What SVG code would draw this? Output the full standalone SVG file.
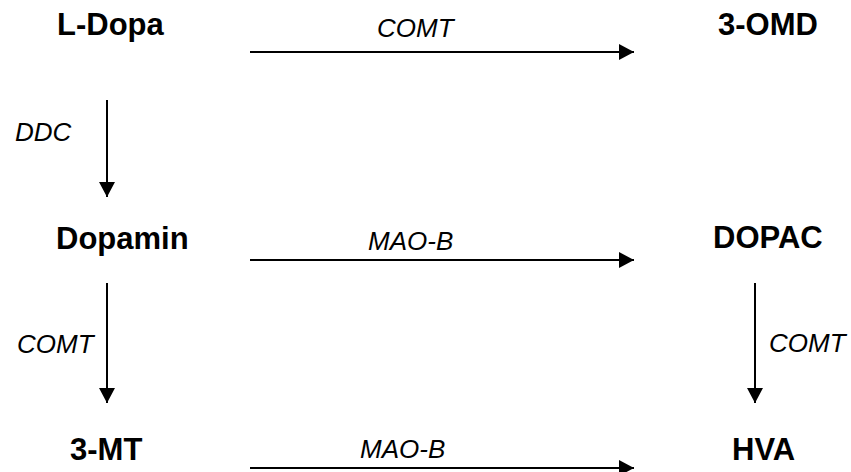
<svg xmlns="http://www.w3.org/2000/svg" width="851" height="472" viewBox="0 0 851 472">
<style>
.n{font-family:"Liberation Sans",Arial,sans-serif;font-weight:bold;font-size:31px;fill:#000}
.e{font-family:"Liberation Sans",Arial,sans-serif;font-style:italic;font-size:26px;fill:#000}
.c line{stroke:#000;stroke-width:2;marker-end:url(#ah)}
</style>
<defs>
<marker id="ah" markerUnits="userSpaceOnUse" markerWidth="15" markerHeight="16" refX="15" refY="8" orient="auto">
<path d="M0,0 L15,8 L0,16 Z" fill="#000"/>
</marker>
</defs>
<rect width="851" height="472" fill="#fff"/>
<g id="ldopa"><text class="n" x="57" y="35">L-Dopa</text></g>
<g id="omd"><text class="n" x="718" y="35">3-OMD</text></g>
<g id="dopamin"><text class="n" x="56" y="249">Dopamin</text></g>
<g id="dopac"><text class="n" x="713" y="248">DOPAC</text></g>
<g id="mt"><text class="n" x="70" y="460">3-MT</text></g>
<g id="hva"><text class="n" x="732" y="460">HVA</text></g>
<g id="connectors" class="c">
<line x1="250" y1="52" x2="634" y2="52"/>
<line x1="250" y1="260" x2="634" y2="260"/>
<line x1="250" y1="468" x2="634" y2="468"/>
<line x1="107" y1="100" x2="107" y2="197"/>
<line x1="107" y1="283" x2="107" y2="403"/>
<line x1="755" y1="283" x2="755" y2="403"/>
<text class="e" x="377" y="37">COMT</text>
<text class="e" x="368" y="250">MAO-B</text>
<text class="e" x="360" y="458">MAO-B</text>
<text class="e" x="15" y="141">DDC</text>
<text class="e" x="17" y="353">COMT</text>
<text class="e" x="769" y="352">COMT</text>
</g>
</svg>
